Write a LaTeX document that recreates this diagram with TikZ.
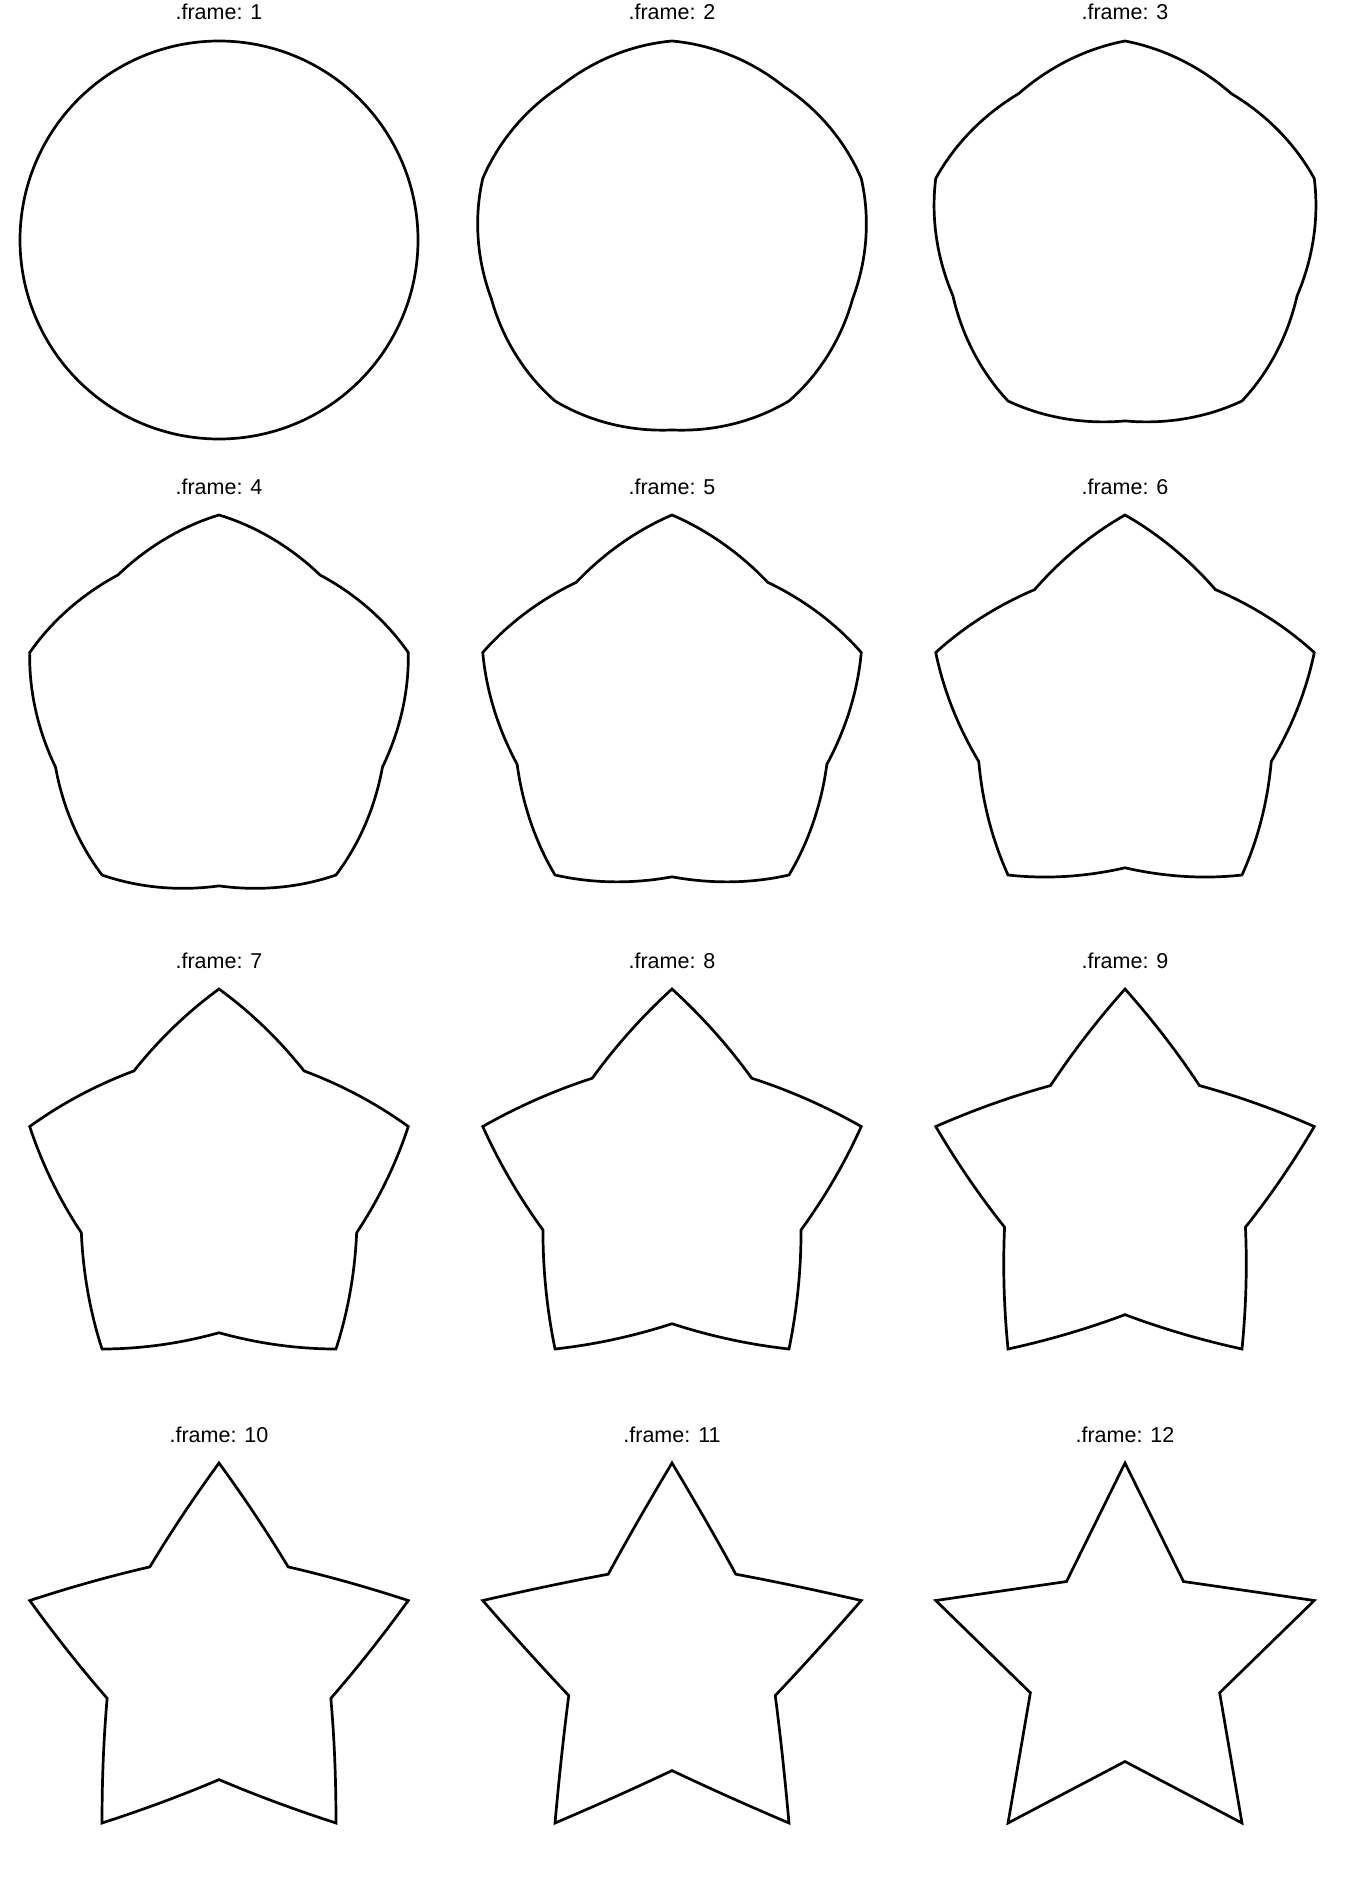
\documentclass[tikz,border=0pt]{standalone}
\usepackage{fontspec}
\setmainfont{Liberation Sans}
\begin{document}
\begin{tikzpicture}[x=1pt,y=-1pt,
  declare function={
    uu(\a)=\a/36-floor(\a/36);
    rA(\a)=199*(1-0.5*mod(floor(\a/36),2));
    rB(\a)=199*(0.5+0.5*mod(floor(\a/36),2));
    thA(\a)=90+36*floor(\a/36);
    sx(\a)=(1-uu(\a))*rA(\a)*cos(thA(\a))+uu(\a)*rB(\a)*cos(thA(\a)+36);
    sy(\a)=(1-uu(\a))*rA(\a)*sin(thA(\a))+uu(\a)*rB(\a)*sin(thA(\a)+36);
    px(\a,\t)=(1-\t)*199*cos(90+\a)+\t*sx(\a);
    py(\a,\t)=(1-\t)*199*sin(90+\a)+\t*sy(\a);
  },
  morph/.style={draw=black,line width=2.7pt,line join=miter},
  framelabel/.style={anchor=base,inner sep=0pt,font=\fontsize{21.5}{26}\selectfont}]
\useasboundingbox (0,0) rectangle (1344,1881);
\foreach \row in {0,...,3}{
  \foreach \col in {0,1,2}{
    \pgfmathtruncatemacro\n{\row*3+\col+1}
    \pgfmathsetmacro\tt{(\n-1)/11}
    \pgfmathsetmacro\cx{219+453*\col}
    \pgfmathsetmacro\cy{240+474*\row}
    \pgfmathsetmacro\ly{20+474*\row}
    \node[framelabel] (lab\n) at (\cx,\ly) {.frame: \n};
    \draw[morph] plot[domain=0:360,samples=361]
      ({\cx+px(\x,\tt)},{\cy-py(\x,\tt)}) -- cycle;
  }
}
\end{tikzpicture}
\end{document}
